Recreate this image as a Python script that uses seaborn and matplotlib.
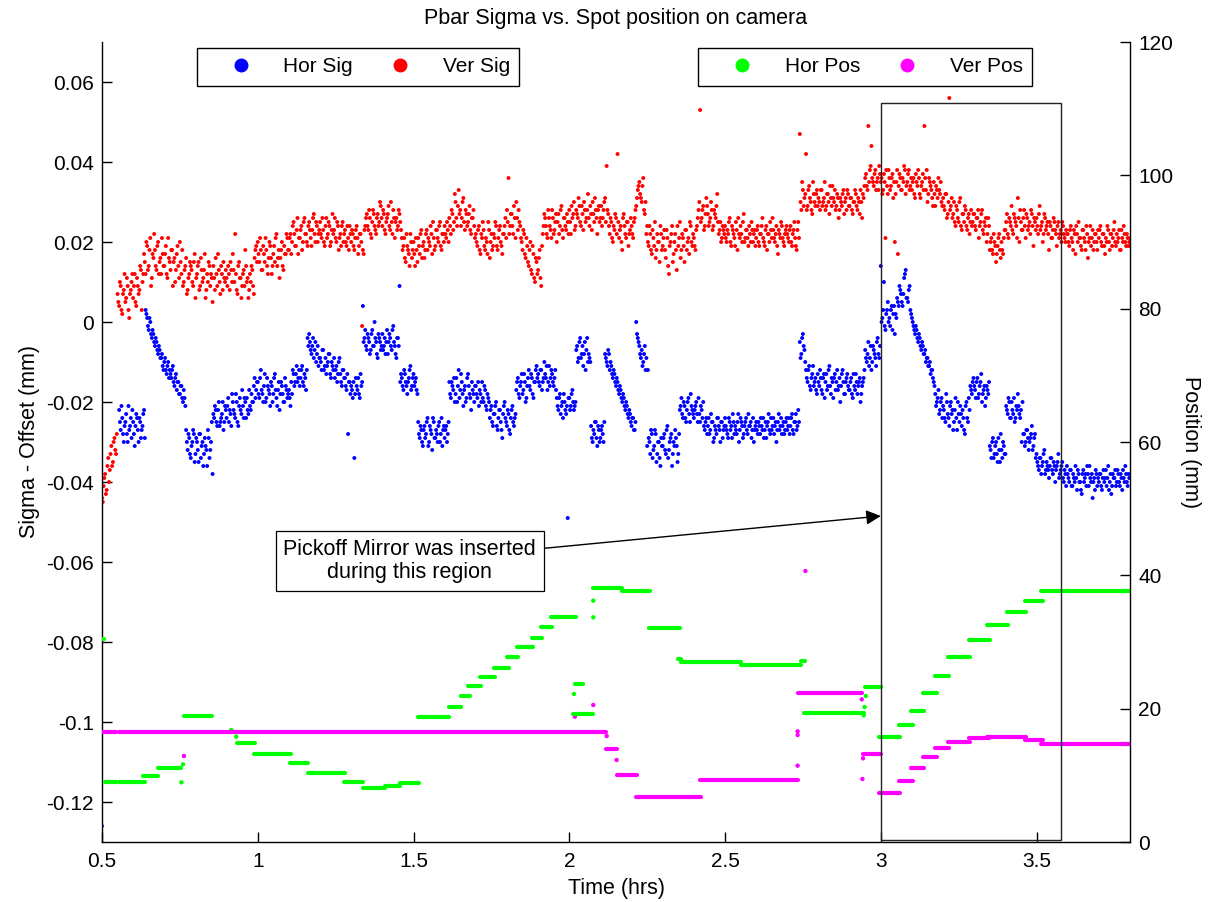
import numpy as np
import pandas as pd
import matplotlib
matplotlib.use("Agg")
import matplotlib.pyplot as plt
import seaborn as sns
from matplotlib.patches import Rectangle
from matplotlib.lines import Line2D

# ---------------- data ----------------
# Sigma - offset, in micrometres. Pass A sampled every 0.005 h from 0.5 h,
# pass B sampled every 0.005 h from 0.5025 h (values read off the picture)
ver_sig_um = [
    -44, -41, -38, -42, -34, -37, -31, -35, -29, -33, 7, 4, 9, 2, 8, 5, 11, 3, 7, 10,
    6, 12, 4, 9, 8, 13, 10, 17, 12, 19, 14, 21, 11, 16, 18, 13, 20, 15, 12, 17,
    14, 19, 11, 16, 13, 18, 15, 10, 17, 14, 20, 12, 9, 13, 16, 8, 12, 14, 10, 15,
    6, 12, 15, 9, 13, 11, 17, 8, 10, 14, 12, 5, 11, 16, 9, 13, 7, 12, 15, 10,
    11, 14, 8, 13, 17, 10, 12, 7, 15, 11, 9, 13, 18, 10, 6, 12, 14, 9, 16, 19,
    20, 15, 18, 13, 17, 21, 14, 16, 19, 12, 17, 15, 22, 16, 11, 18, 14, 19, 17, 21,
    18, 22, 20, 25, 19, 23, 17, 21, 24, 20, 26, 22, 19, 25, 21, 23, 27, 20, 24, 22,
    25, 21, 23, 19, 26, 22, 24, 20, 27, 23, 21, 25, 18, 22, 24, 20, 23, 19, 21, 24,
    20, 22, 18, 23, 21, 19, 22, -1, 17, 24, 27, 23, 26, 21, 28, 24, 22, 27, 25, 29,
    24, 27, 22, 26, 29, 23, 25, 28, 21, 26, 24, 27, 23, 18, 21, 15, 19, 17, 22, 16,
    20, 14, 18, 21, 17, 23, 19, 16, 22, 18, 20, 24, 17, 21, 19, 23, 20, 25, 18, 22,
    24, 21, 23, 26, 22, 27, 25, 30, 24, 33, 28, 26, 31, 23, 27, 25, 29, 22, 26, 24,
    22, 19, 24, 17, 21, 23, 18, 20, 25, 16, 22, 19, 21, 24, 18, 23, 20, 17, 22, 26,
    28, 36, 24, 27, 22, 26, 30, 23, 25, 21, 18, 22, 16, 19, 14, 20, 12, 17, 10, 15,
    13, 18, 9, 22, 27, 24, 21, 26, 23, 28, 22, 25, 20, 27, 24, 29, 21, 26, 23, 25,
    28, 22, 26, 30, 24, 27, 31, 25, 29, 23, 28, 26, 32, 24, 27, 30, 25, 28, 22, 29,
    26, 24, 28, 31, 39, 27, 22, 25, 20, 23, 26, 42, 21, 24, 18, 27, 22, 25, 19, 23,
    24, 21, 26, 29, 33, 35, 31, 34, 28, 30, 24, 19, 22, 17, 21, 25, 18, 20, 15, 22,
    19, 23, 16, 21, 12, 20, 24, 17, 22, 13, 19, 25, 18, 21, 15, 23, 20, 17, 24, 19,
    21, 18, 24, 28, 53, 26, 29, 24, 31, 27, 25, 30, 23, 28, 26, 32, 22, 25, 21, 23,
    24, 20, 22, 26, 19, 23, 21, 25, 18, 22, 24, 20, 27, 21, 23, 19, 22, 25, 20, 23,
    21, 24, 19, 22, 26, 20, 23, 18, 22, 25, 21, 23, 20, 24, 17, 22, 25, 21, 19, 23,
    22, 20, 24, 19, 23, 21, 18, 25, 47, 28, 33, 31, 42, 29, 34, 30, 27, 32, 29, 33,
    31, 28, 33, 30, 35, 29, 32, 27, 31, 34, 30, 28, 32, 26, 31, 29, 33, 30, 28, 32,
    29, 31, 27, 30, 32, 28, 30, 33, 26, 31, 36, 34, 49, 38, 44, 35, 37, 33, 36, 39,
    35, 32, 37, 21, 34, 38, 33, 36, 31, 20, 35, 17, 37, 33, 36, 39, 32, 35, 38, 34,
    33, 36, 31, 35, 38, 32, 34, 37, 49, 33, 30, 36, 34, 31, 35, 29, 33, 36, 32, 30,
    31, 28, 32, 27, 56, 29, 26, 30, 24, 28, 25, 31, 23, 27, 29, 24, 26, 22, 28, 25,
    27, 23, 26, 21, 25, 28, 22, 24, 20, 26, 18, 21, 17, 20, 15, 19, 22, 16, 18, 21,
    23, 27, 21, 25, 29, 22, 26, 24, 31, 20, 25, 23, 28, 21, 26, 24, 22, 27, 19, 25,
    26, 22, 29, 24, 20, 27, 23, 25, 18, 24, 21, 26, 23, 19, 25, 22, 20, 24, 21, 23,
    22, 19, 24, 20, 23, 17, 22, 25, 21, 18, 23, 20, 24, 16, 21, 19, 23, 20, 22, 18,
    21, 24, 19, 22, 17, 20, 23, 18, 22, 21, 25, 19, 20, 23, 18, 21, 24, 20, 22, 19,
    21,
]
ver_sig_b_um = [
    -45, -39, -43, -36, -40, -33, -36, -30, -32, -28, 5, 10, 3, 7, 12, 6, 9, 1, 8, 12,
    9, 5, 11, 7, 14, 3, 12, 15, 20, 13, 18, 9, 17, 22, 14, 19, 12, 16, 21, 14,
    17, 12, 21, 15, 18, 9, 16, 13, 19, 11, 15, 18, 10, 14, 7, 11, 15, 13, 9, 17,
    11, 14, 8, 16, 10, 13, 6, 12, 15, 9, 11, 14, 8, 12, 17, 10, 14, 8, 11, 13,
    9, 12, 15, 10, 13, 22, 8, 14, 11, 6, 12, 9, 14, 11, 8, 10, 13, 7, 18, 15,
    17, 21, 13, 19, 15, 18, 12, 20, 16, 14, 19, 21, 14, 18, 16, 20, 13, 17, 22, 18,
    21, 17, 24, 22, 19, 26, 21, 23, 18, 25, 22, 20, 24, 23, 19, 26, 22, 25, 20, 23,
    22, 26, 20, 24, 21, 25, 19, 23, 22, 26, 20, 24, 21, 19, 25, 22, 20, 24, 18, 22,
    23, 19, 21, 24, 17, 22, 20, 18, 23, 26, 24, 28, 22, 25, 27, 23, 26, 24, 30, 26,
    28, 23, 25, 27, 24, 30, 22, 26, 25, 23, 28, 25, 21, 19, 16, 22, 18, 14, 20, 18,
    17, 21, 15, 19, 22, 16, 20, 18, 23, 21, 19, 22, 25, 18, 23, 21, 24, 19, 22, 20,
    22, 25, 20, 24, 28, 23, 32, 26, 29, 27, 24, 30, 25, 28, 24, 27, 23, 26, 28, 21,
    20, 23, 18, 22, 25, 19, 21, 17, 23, 20, 18, 22, 25, 19, 21, 24, 19, 22, 24, 21,
    25, 22, 27, 24, 29, 21, 26, 28, 24, 20, 23, 17, 21, 15, 18, 13, 19, 11, 16, 12,
    16, 11, 19, 24, 26, 22, 28, 24, 21, 26, 23, 27, 25, 22, 28, 23, 26, 24, 27, 22,
    25, 29, 27, 23, 28, 26, 29, 24, 27, 30, 25, 28, 26, 29, 23, 27, 31, 26, 28, 25,
    29, 26, 30, 25, 28, 24, 26, 21, 24, 27, 22, 25, 23, 20, 26, 24, 21, 25, 22, 26,
    22, 25, 28, 31, 34, 32, 30, 36, 27, 22, 20, 24, 18, 23, 19, 16, 22, 20, 24, 18,
    21, 18, 23, 14, 19, 22, 15, 20, 18, 24, 21, 16, 22, 19, 23, 18, 21, 25, 20, 22,
    19, 23, 26, 30, 25, 28, 23, 27, 29, 24, 26, 28, 24, 27, 29, 25, 23, 20, 24, 22,
    21, 23, 25, 20, 24, 22, 19, 23, 26, 21, 22, 25, 20, 23, 21, 24, 20, 23, 22, 19,
    23, 20, 22, 24, 21, 19, 24, 22, 20, 23, 26, 21, 22, 19, 23, 21, 24, 20, 22, 24,
    21, 23, 20, 22, 25, 19, 23, 21, 30, 35, 29, 32, 28, 33, 31, 28, 35, 30, 32, 29,
    30, 33, 29, 31, 28, 32, 30, 34, 29, 31, 33, 29, 31, 28, 30, 32, 27, 31, 33, 29,
    31, 28, 30, 33, 29, 31, 27, 30, 32, 34, 37, 33, 35, 39, 36, 34, 38, 35, 33, 37,
    36, 33, 35, 38, 32, 36, 34, 37, 35, 32, 38, 34, 36, 33, 35, 38, 34, 37, 33, 36,
    35, 32, 37, 34, 36, 31, 35, 33, 36, 38, 32, 35, 33, 29, 32, 34, 31, 33, 35, 29,
    29, 32, 26, 30, 28, 31, 27, 25, 29, 26, 30, 24, 27, 25, 28, 23, 27, 25, 24, 27,
    24, 26, 28, 24, 27, 23, 25, 26, 22, 24, 20, 18, 22, 19, 17, 21, 18, 20, 17, 23,
    25, 22, 26, 24, 23, 27, 25, 21, 26, 28, 23, 26, 24, 27, 23, 25, 28, 24, 26, 23,
    24, 27, 23, 25, 22, 26, 24, 22, 25, 21, 23, 25, 22, 24, 21, 23, 25, 22, 20, 22,
    20, 23, 21, 18, 22, 24, 20, 21, 19, 23, 21, 18, 22, 20, 24, 21, 18, 22, 20, 23,
    23, 20, 22, 19, 21, 24, 20, 22, 19, 23, 20, 22, 21, 18, 23, 20, 22, 19, 21, 20,
]

hor_sig_um = [
    -126, None, None, None, None, None, None, None, None, None, None, -22, -27, -24, -30, -25, -28, -21, -26, -29,
    -25, -31, -23, -27, -24, -29, -26, -22, 3, 1, -2, 0, -4, -3, -6, -5, -8, -7, -9, -11,
    -10, -12, -11, -14, -13, -12, -15, -14, -17, -15, -18, -16, -20, -19, -27, -32, -29, -34, -30, -28,
    -33, -30, -35, -28, -31, -36, -29, -32, -27, -34, -30, -38, -24, -22, -26, -20, -25, -23, -27, -21,
    -24, -19, -22, -26, -20, -23, -18, -25, -21, -22, -17, -24, -20, -19, -23, -21, -18, -20, -14, -17,
    -15, -19, -12, -18, -16, -20, -14, -17, -21, -16, -18, -13, -19, -17, -22, -15, -18, -20, -16, -19,
    -17, -21, -18, -13, -15, -11, -14, -16, -12, -15, -13, -17, -4, -3, -7, -6, -9, -5, -8, -11,
    -9, -12, -7, -11, -13, -10, -8, -14, -11, -9, -12, -15, -10, -13, -16, -12, -14, -17, -28, -15,
    -16, -19, -34, -14, -17, -18, -13, -15, -5, -2, -7, -4, -8, -3, -6, 0, -5, -9, -4, -7,
    -3, -6, -8, -2, -5, -4, -7, -1, -6, -9, -4, 9, -13, -16, -12, -15, -18, -14, -11, -16,
    -13, -15, -17, -25, -29, -27, -31, -26, -28, -24, -30, -27, -32, -25, -29, -28, -26, -30, -24, -27,
    -29, -26, -28, -15, -19, -16, -14, -18, -20, -12, -17, -15, -21, -16, -19, -13, -18, -22, -17, -20,
    -16, -19, -21, -18, -15, -20, -17, -22, -19, -24, -21, -26, -23, -20, -27, -22, -25, -29, -21, -24,
    -26, -23, -28, -22, -25, -24, -17, -14, -19, -15, -18, -13, -20, -16, -12, -17, -14, -19, -15, -11,
    -13, -16, -12, -15, -10, -14, -17, -11, -14, -13, -16, -12, -19, -22, -18, -21, -24, -20, -23, -49,
    -19, -21, -17, -22, -20, -6, -9, -4, -8, -11, -5, -7, -10, -9, -26, -30, -28, -25, -31, -27,
    -29, -26, -30, -8, -10, -7, -12, -11, -14, -13, -16, -15, -18, -17, -20, -19, -22, -21, -24, -23,
    -26, -24, -27, 0, -4, -6, -9, -11, -8, -12, -31, -29, -33, -28, -32, -27, -35, -30, -34, -29,
    -31, -28, -33, -26, -32, -29, -36, -30, -27, -31, -33, -22, -19, -24, -21, -25, -20, -23, -18, -22,
    -24, -21, -23, -19, -25, -22, -20, -27, -24, -26, -28, -23, -25, -29, -27, -24, -26, -30, -25, -27,
    -24, -27, -29, -25, -26, -23, -28, -27, -25, -30, -24, -26, -28, -25, -27, -23, -26, -29, -24, -27,
    -25, -28, -26, -24, -27, -29, -25, -26, -23, -28, -27, -24, -26, -30, -25, -27, -24, -26, -28, -25,
    -27, -24, -26, -23, -28, -25, -27, -22, -5, -8, -3, -7, -12, -15, -11, -17, -13, -16, -14, -18,
    -15, -12, -17, -14, -19, -13, -16, -11, -18, -15, -14, -17, -12, -16, -20, -13, -15, -18, -14, -16,
    -17, -14, -19, -16, -13, -18, -15, -20, -16, -14, -7, -10, -5, -9, -12, -6, -8, -11, -4, -9,
    14, 1, 10, -2, 3, 0, -1, 4, 2, -3, 1, 5, 9, 7, 4, 11, 13, 6, 8, 3,
    1, -1, -3, -2, -5, -4, -7, -6, -8, -10, -9, -11, -13, -12, -15, -18, -20, -17, -22, -19,
    -21, -24, -18, -23, -26, -20, -22, -25, -19, -27, -23, -21, -26, -24, -28, -20, -25, -22, -17, -15,
    -16, -19, -14, -18, -15, -20, -17, -21, -16, -18, -31, -34, -29, -33, -30, -35, -32, -28, -34, -31,
    -33, -22, -19, -24, -20, -23, -25, -21, -18, -23, -22, -20, -28, -30, -27, -32, -29, -26, -31, -28,
    -33, -36, -34, -38, -35, -32, -37, -36, -39, -34, -37, -35, -40, -36, -33, -38, -36, -39, -37, -41,
    -38, -40, -37, -41, -39, -36, -42, -38, -40, -43, -37, -39, -41, -38, -36, -40, -44, -39, -37, -41,
    -40, -38, -42, -37, -39, -41, -36, -40, -43, -38, -39, -41, -37, -40, -38, -42, -39, -36, -40, -38,
    -39,
]
hor_sig_b_um = [
    None, None, None, None, None, None, None, None, None, None, None, -25, -21, -28, -26, -23, -30, -27, -24, -22,
    -28, -26, -24, -30, -25, -27, -23, -29, 2, -1, 1, -3, -2, -5, -4, -7, -6, -9, -8, -12,
    -9, -13, -10, -12, -14, -11, -16, -13, -15, -18, -16, -19, -17, -21, -30, -28, -33, -31, -27, -35,
    -29, -32, -28, -34, -30, -33, -31, -36, -29, -32, -25, -23, -21, -25, -22, -26, -24, -20, -25, -22,
    -21, -25, -23, -18, -22, -24, -20, -26, -19, -23, -21, -19, -24, -22, -17, -22, -20, -16, -19, -15,
    -18, -14, -17, -20, -13, -19, -16, -18, -15, -20, -14, -17, -21, -15, -18, -16, -20, -14, -17, -18,
    -19, -15, -12, -16, -13, -15, -12, -14, -11, -16, -14, -12, -6, -5, -8, -4, -7, -10, -6, -9,
    -10, -7, -12, -9, -11, -8, -13, -10, -12, -14, -11, -13, -9, -15, -12, -14, -16, -13, -15, -18,
    -17, -15, -18, -16, -14, -19, -16, 4, -4, -6, -3, -5, -7, -2, -6, -4, -8, -3, -5, -6,
    -7, -4, -5, -8, -3, -6, -2, -5, -8, -4, -6, -15, -14, -17, -13, -16, -15, -12, -17, -14,
    -16, -14, -18, -28, -26, -30, -27, -29, -25, -31, -26, -28, -24, -29, -27, -30, -25, -28, -31, -26,
    -27, -30, -25, -18, -15, -17, -20, -14, -16, -19, -13, -18, -17, -20, -14, -16, -19, -15, -18, -16,
    -18, -15, -17, -20, -19, -16, -21, -18, -20, -22, -25, -23, -21, -26, -24, -22, -27, -23, -20, -25,
    -22, -27, -24, -21, -26, -23, -15, -18, -16, -13, -17, -15, -19, -14, -16, -13, -18, -15, -12, -14,
    -15, -12, -17, -14, -13, -11, -15, -16, -12, -15, -14, -17, -21, -19, -23, -20, -18, -22, -21, -19,
    -22, -18, -20, -21, -7, -10, -5, -9, -6, -8, -12, -4, -8, -10, -29, -27, -25, -29, -26, -30,
    -27, -28, -25, -9, -11, -8, -10, -13, -12, -15, -14, -17, -16, -19, -18, -21, -20, -23, -22, -25,
    -24, -27, -25, -3, -5, -8, -7, -10, -6, -9, -12, -30, -27, -34, -31, -28, -33, -30, -36, -31,
    -29, -32, -27, -34, -30, -28, -33, -31, -29, -35, -28, -21, -23, -20, -24, -22, -19, -25, -21, -23,
    -22, -20, -25, -23, -21, -24, -26, -25, -28, -24, -27, -25, -30, -26, -28, -24, -27, -25, -29, -26,
    -26, -28, -24, -27, -29, -25, -26, -28, -23, -27, -25, -29, -26, -24, -28, -26, -25, -27, -30, -26,
    -27, -25, -28, -26, -24, -27, -29, -25, -27, -24, -26, -28, -25, -27, -23, -26, -28, -25, -27, -24,
    -26, -28, -24, -27, -25, -23, -26, -25, -9, -4, -6, -10, -14, -12, -16, -14, -11, -15, -17, -13,
    -16, -14, -18, -13, -15, -17, -12, -16, -14, -19, -13, -15, -17, -14, -16, -12, -18, -15, -13, -17,
    -15, -18, -13, -17, -15, -16, -14, -18, -15, -12, -9, -8, -11, -6, -10, -7, -9, -5, -8, -6,
    0, 3, -1, 2, 5, 1, 3, -2, 4, 2, 6, 4, 8, 5, 7, 12, 6, 5, 9, 2,
    0, -2, -1, -4, -3, -6, -5, -8, -7, -9, -11, -10, -12, -14, -16, -21, -19, -23, -20, -24,
    -22, -25, -20, -24, -21, -23, -27, -22, -24, -20, -25, -23, -22, -27, -21, -24, -19, -16, -18, -14,
    -17, -15, -19, -16, -13, -18, -16, -19, -17, -15, -32, -30, -34, -31, -33, -29, -35, -32, -30, -33,
    -21, -23, -20, -24, -22, -19, -24, -22, -21, -24, -30, -28, -31, -27, -29, -30, -28, -32, -29, -34,
    -35, -37, -34, -36, -33, -38, -35, -37, -36, -34, -38, -36, -37, -35, -39, -37, -35, -40, -38, -36,
    -39, -37, -41, -38, -40, -39, -37, -40, -42, -38, -40, -38, -36, -41, -39, -38, -40, -42, -38, -39,
    -38, -41, -39, -40, -37, -39, -42, -38, -41, -39, -37, -40, -38, -41, -39, -37, -40, -38, -41, -39,
]
sig_t0_hrs = 0.5
sig_t0_b_hrs = 0.5025
sig_dt_hrs = 0.005

# Spot position plateaus (mm): start time, end time, level
hpos_start = [0.498, 0.509, 0.553, 0.632, 0.680, 0.762, 0.932, 0.987, 1.103, 1.162, 1.277, 1.338,
              1.408, 1.456, 1.515, 1.615, 1.654, 1.676, 1.713, 1.758, 1.801, 1.833, 1.879, 1.909,
              1.941, 2.018, 2.013, 2.075, 2.170, 2.255, 2.349, 2.360, 2.550, 2.745, 2.755, 2.950,
              2.995, 3.058, 3.098, 3.134, 3.174, 3.215, 3.282, 3.341, 3.404, 3.462, 3.514]
hpos_end = [0.505, 0.546, 0.637, 0.680, 0.755, 0.854, 0.990, 1.108, 1.162, 1.280, 1.338, 1.408,
            1.456, 1.518, 1.615, 1.654, 1.681, 1.718, 1.761, 1.807, 1.836, 1.882, 1.914, 1.943,
            2.021, 2.045, 2.077, 2.170, 2.260, 2.354, 2.360, 2.550, 2.745, 2.757, 2.945, 3.000,
            3.062, 3.103, 3.138, 3.179, 3.220, 3.287, 3.349, 3.408, 3.466, 3.520, 3.800]
hpos_level = [30.45, 8.95, 8.95, 9.9, 11.05, 18.9, 14.8, 13.25, 11.8, 10.4, 8.95, 8.05,
              8.45, 8.9, 18.8, 20.3, 21.9, 23.45, 24.75, 26.15, 27.7, 29.25, 30.65, 32.2,
              33.7, 23.65, 19.15, 38.05, 37.6, 32.05, 27.4, 27.0, 26.6, 27.1, 19.3, 23.2,
              15.8, 17.55, 19.65, 22.3, 24.9, 27.7, 30.3, 32.55, 34.55, 36.2, 37.6]
hpos_pt_t = [0.755, 0.760, 0.915, 0.931, 2.015, 2.077, 2.077, 2.945, 2.948, 2.952]
hpos_pt_v = [8.95, 11.65, 16.8, 15.8, 22.2, 36.2, 33.7, 19.0, 20.25, 21.9]

vpos_start = [0.493, 0.553, 2.117, 2.152, 2.215, 2.420, 2.734, 2.943, 2.995, 3.058, 3.098, 3.134,
              3.174, 3.215, 3.282, 3.341, 3.462, 3.514]
vpos_end = [0.546, 2.117, 2.154, 2.217, 2.422, 2.734, 2.941, 3.000, 3.062, 3.103, 3.138, 3.179,
            3.220, 3.287, 3.347, 3.466, 3.520, 3.800]
vpos_level = [16.55, 16.55, 13.95, 10.1, 6.75, 9.3, 22.3, 13.15, 7.4, 9.15, 11.15, 12.7,
              14.05, 15.05, 15.55, 15.8, 15.3, 14.75]
vpos_pt_t = [0.763, 2.018, 2.077, 2.120, 2.152, 2.733, 2.733, 2.733, 2.758, 2.939, 2.941, 2.943]
vpos_pt_v = [12.9, 18.8, 20.55, 15.9, 12.3, 11.45, 16.05, 16.6, 40.65, 21.4, 9.45, 12.55]

sig_series = ["Hor Sig", "Ver Sig"]
pos_series = ["Hor Pos", "Ver Pos"]
colors = {"Hor Sig": "#0000ff", "Ver Sig": "#ff0000", "Hor Pos": "#00ff00", "Ver Pos": "#ff00ff"}

x_ticks = [0.5, 1, 1.5, 2, 2.5, 3, 3.5]
x_ticklabels = ["0.5", "1", "1.5", "2", "2.5", "3", "3.5"]
yl_ticks = [-0.12, -0.1, -0.08, -0.06, -0.04, -0.02, 0, 0.02, 0.04, 0.06]
yl_ticklabels = ["-0.12", "-0.1", "-0.08", "-0.06", "-0.04", "-0.02", "0", "0.02", "0.04", "0.06"]
yr_ticks = [0, 20, 40, 60, 80, 100, 120]

# ---------------- frames ----------------
def sig_frame(vals, t0, name):
    v = np.array([np.nan if x is None else x for x in vals], dtype=float) / 1000.0  # um -> mm
    t = t0 + sig_dt_hrs * np.arange(len(v))
    return pd.DataFrame({"t": t, "v": v, "series": name}).dropna()

df_sig = pd.concat([
    sig_frame(hor_sig_um, sig_t0_hrs, "Hor Sig"),
    sig_frame(hor_sig_b_um, sig_t0_b_hrs, "Hor Sig"),
    sig_frame(ver_sig_um, sig_t0_hrs, "Ver Sig"),
    sig_frame(ver_sig_b_um, sig_t0_b_hrs, "Ver Sig"),
], ignore_index=True)

rows = []
for name, st, en, lv in [("Hor Pos", hpos_start, hpos_end, hpos_level),
                         ("Ver Pos", vpos_start, vpos_end, vpos_level)]:
    for k, (a, b, c) in enumerate(zip(st, en, lv)):
        rows.append({"t": a, "v": c, "series": name, "seg": f"{name}{k}"})
        rows.append({"t": b, "v": c, "series": name, "seg": f"{name}{k}"})
df_pos = pd.DataFrame(rows)
df_pts = pd.concat([
    pd.DataFrame({"t": hpos_pt_t, "v": hpos_pt_v, "series": "Hor Pos"}),
    pd.DataFrame({"t": vpos_pt_t, "v": vpos_pt_v, "series": "Ver Pos"}),
], ignore_index=True)

# ---------------- plotting ----------------
sns.set_theme(style="white")
plt.rcParams["font.family"] = ["Liberation Sans", "DejaVu Sans"]
plt.rcParams["axes.edgecolor"] = "black"
plt.rcParams["axes.linewidth"] = 1.0
plt.rcParams["text.color"] = "black"
plt.rcParams["axes.labelcolor"] = "black"

FS_TICK = 15
FS = 15.5
fig, ax = plt.subplots(figsize=(12.15, 9.02), dpi=100)
fig.subplots_adjust(left=102 / 1215, right=1130 / 1215, bottom=1 - 842 / 902, top=1 - 42 / 902)
ax2 = ax.twinx()

sns.scatterplot(data=df_sig, x="t", y="v", hue="series", hue_order=sig_series,
                palette=colors, s=8, linewidth=0, legend=False, ax=ax)

sns.lineplot(data=df_pos, x="t", y="v", hue="series", hue_order=pos_series, units="seg",
             estimator=None, sort=False, palette=colors, lw=3.0, legend=False, ax=ax2,
             solid_capstyle="round")
sns.scatterplot(data=df_pts, x="t", y="v", hue="series", hue_order=pos_series,
                palette=colors, s=10, linewidth=0, legend=False, ax=ax2)

ax.set_xlim(0.5, 3.8)
ax.set_ylim(-0.13, 0.07)
ax2.set_ylim(0, 120)

ax.set_xticks(x_ticks)
ax.set_xticklabels(x_ticklabels)
ax.set_yticks(yl_ticks)
ax.set_yticklabels(yl_ticklabels)
ax2.set_yticks(yr_ticks)
ax2.set_yticklabels([str(v) for v in yr_ticks])

for a in (ax, ax2):
    a.spines["top"].set_visible(False)
ax.spines["right"].set_visible(False)
ax2.spines["left"].set_visible(False)
ax2.spines["bottom"].set_visible(False)

ax.tick_params(axis="x", direction="in", length=7, width=1, colors="black", labelsize=FS_TICK,
               bottom=True, top=False, pad=7)
ax.tick_params(axis="y", direction="in", length=7, width=1, colors="black", labelsize=FS_TICK,
               left=True, right=False, pad=6)
ax2.tick_params(axis="y", direction="in", length=7, width=1, colors="black", labelsize=FS_TICK,
                right=True, left=False, pad=6)

ax.set_xlabel("Time (hrs)", fontsize=FS, labelpad=5)
ax.set_ylabel("Sigma - Offset (mm)", fontsize=FS, labelpad=4)
ax2.set_ylabel("Position (mm)", fontsize=FS, labelpad=5, rotation=270, va="bottom")
ax.set_title("Pbar Sigma vs. Spot position on camera", fontsize=FS, pad=13)

# Highlight region and annotation
region_t = (3.0, 3.579)
region_y = (-0.1295, 0.05475)
ax2.add_patch(Rectangle((region_t[0], region_y[0]), region_t[1] - region_t[0],
                        region_y[1] - region_y[0], transform=ax.transData,
                        fill=False, ec="#222222", lw=1.0, zorder=5))
ax2.annotate("Pickoff Mirror was inserted\nduring this region",
             xy=(3.0, -0.0485), xycoords=ax.transData,
             xytext=(1.488, -0.0598), textcoords=ax.transData,
             ha="center", va="center", fontsize=FS, linespacing=1.15,
             bbox=dict(boxstyle="square,pad=0.35", fc="white", ec="black", lw=0.9),
             arrowprops=dict(arrowstyle="-|>", color="black", lw=1.0, mutation_scale=22,
                             shrinkA=0, shrinkB=0), zorder=6)

# Legends
def mk(c):
    return Line2D([], [], marker="o", ls="", color=c, markersize=9)

leg_kw = dict(ncol=2, loc="upper left", frameon=True, fancybox=False, edgecolor="black",
              fontsize=FS_TICK, handlelength=3.3, handletextpad=0.4, columnspacing=0.6,
              borderpad=0.45, borderaxespad=0, framealpha=1)
leg1 = ax2.legend([mk(colors[s]) for s in sig_series], sig_series,
                  bbox_to_anchor=(0.0924, 0.9925), **leg_kw)
leg1.get_frame().set_linewidth(1.0)
ax2.add_artist(leg1)
leg2 = ax2.legend([mk(colors[s]) for s in pos_series], pos_series,
                  bbox_to_anchor=(0.58, 0.9925), **leg_kw)
leg2.get_frame().set_linewidth(1.0)

fig.savefig("out.png", dpi=100, facecolor="white")
